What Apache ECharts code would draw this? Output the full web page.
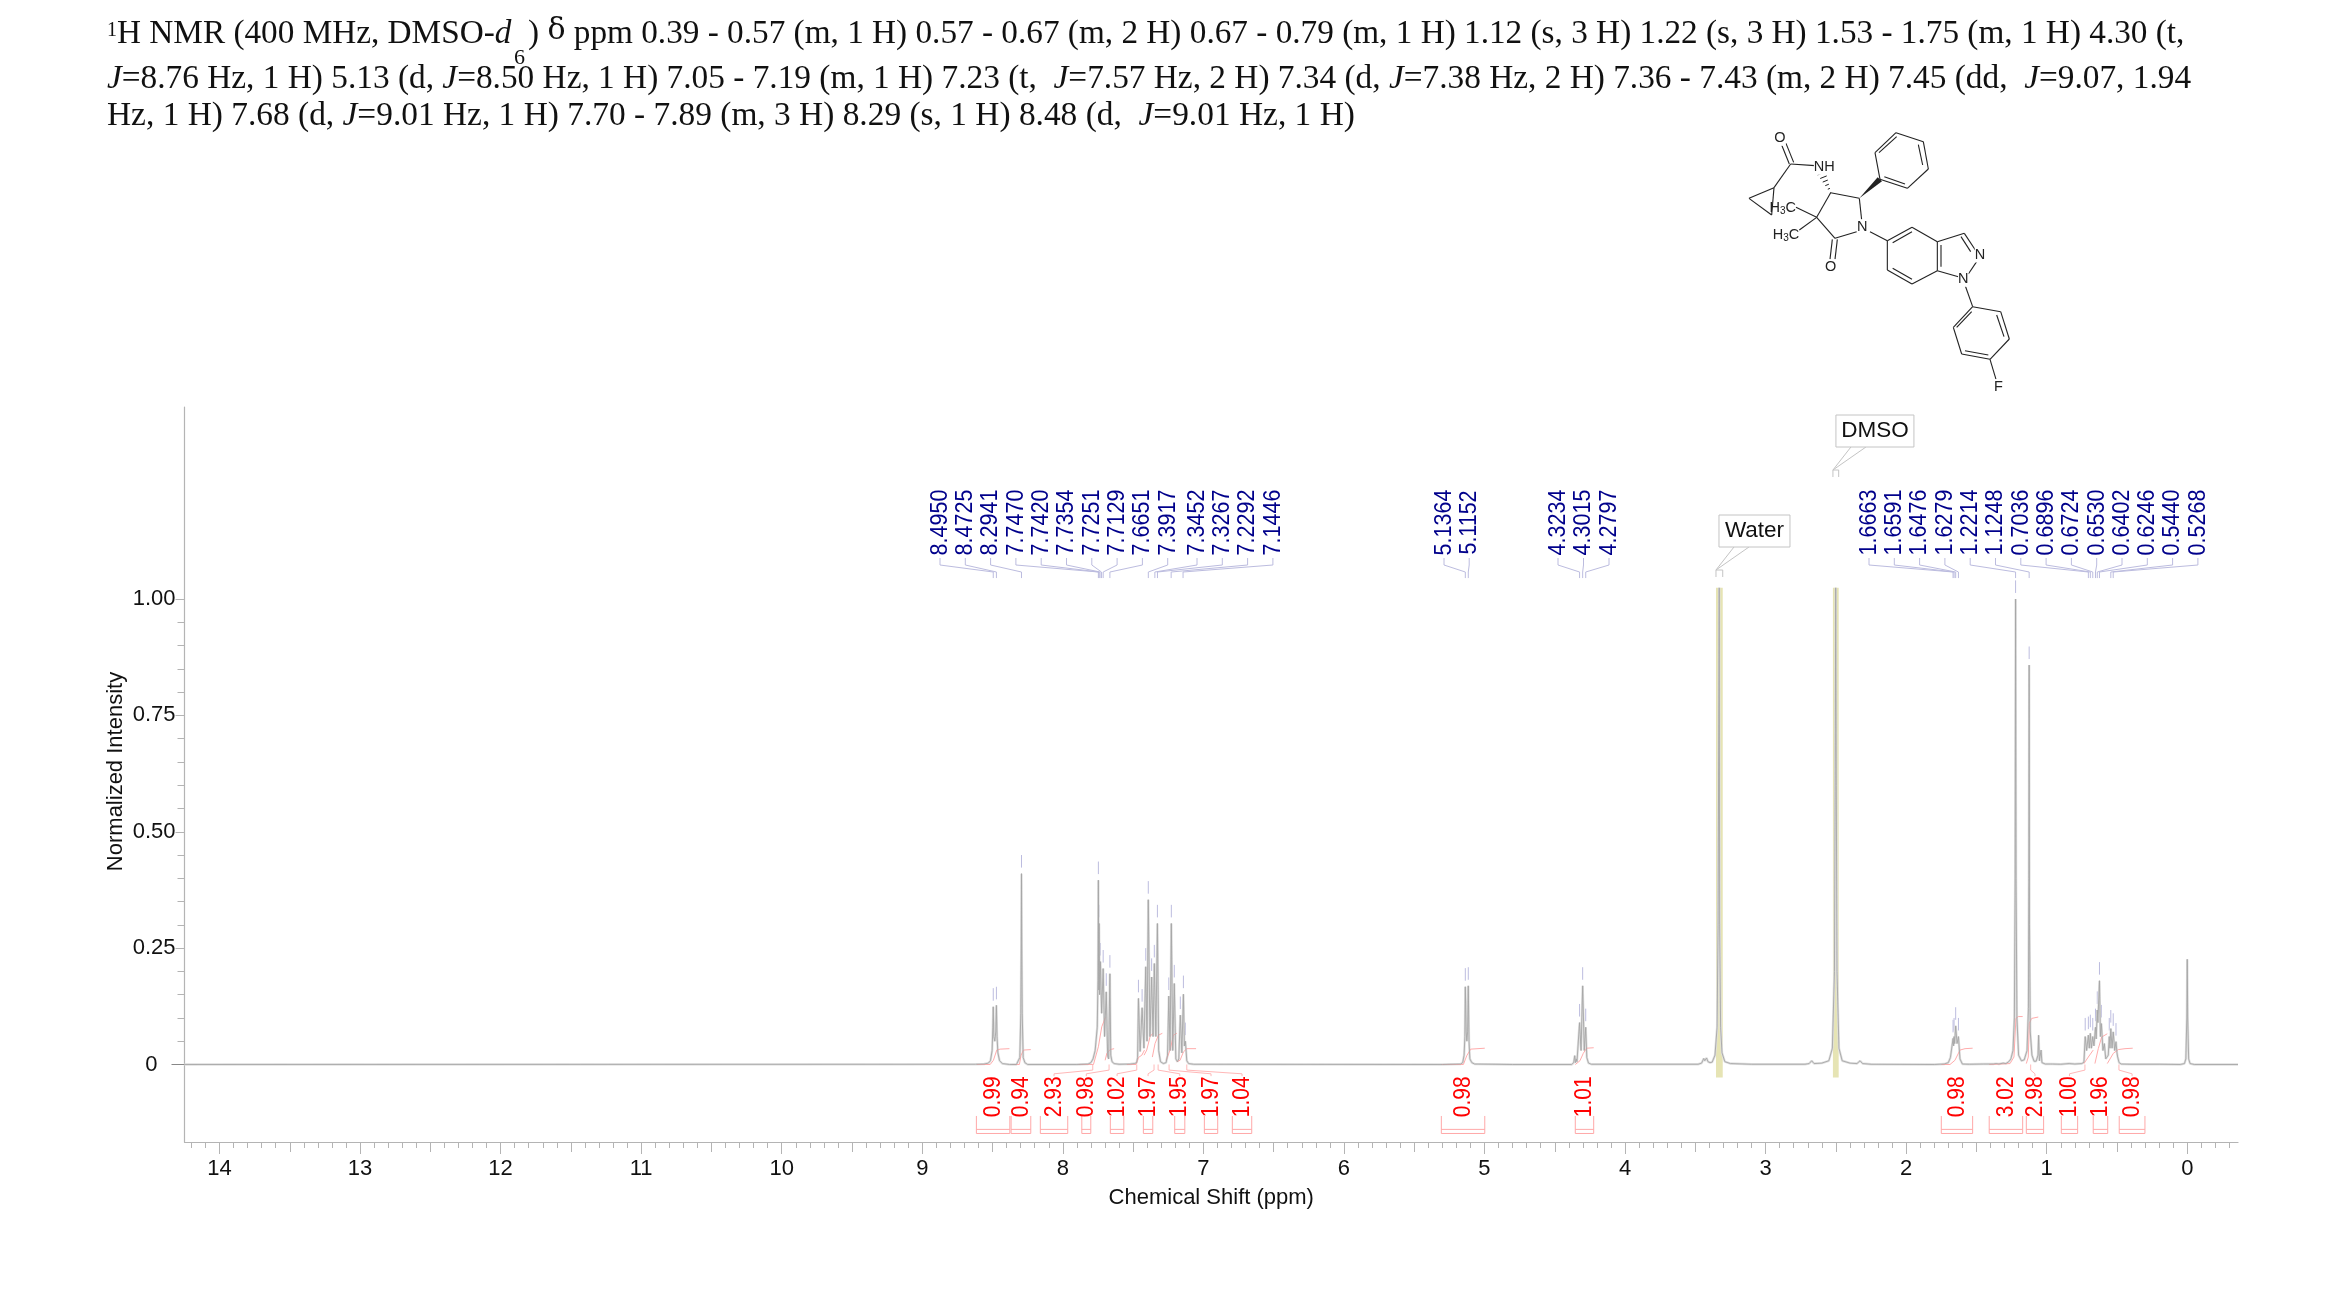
<!DOCTYPE html>
<html>
<head>
<meta charset="utf-8">
<title>1H NMR</title>
<style>
  html, body { margin: 0; padding: 0; background: #fff; }
  #chart { width: 2339px; height: 1307px; }
</style>
</head>
<body>
<div id="chart"></div>
<script src="https://cdn.jsdelivr.net/npm/echarts@6/dist/echarts.min.js"></script>
<script>
// spectrum, [ppm, normalized intensity]
const spectrum = [
  [14.249, 0], [8.62, 0.0005], [8.56, 0.001], [8.53, 0.003], [8.515, 0.008], [8.503, 0.03], [8.498, 0.08],
  [8.495, 0.124], [8.491, 0.06], [8.484, 0.05], [8.477, 0.07], [8.4725, 0.127], [8.468, 0.06], [8.462, 0.025],
  [8.45, 0.008], [8.43, 0.002], [8.38, 0],
  [8.33, 0], [8.318, 0.004], [8.306, 0.015], [8.299, 0.11], [8.296, 0.25], [8.2941, 0.41], [8.292, 0.25],
  [8.289, 0.11], [8.282, 0.015], [8.27, 0.004], [8.25, 0],
  [7.9, 0], [7.82, 0.001], [7.8, 0.004], [7.785, 0.012], [7.77, 0.03], [7.755, 0.08], [7.75, 0.18],
  [7.747, 0.396], [7.7445, 0.16], [7.742, 0.303], [7.738, 0.15], [7.7325, 0.221], [7.724, 0.11], [7.7129, 0.206],
  [7.703, 0.06], [7.691, 0.156], [7.681, 0.018], [7.674, 0.012], [7.6651, 0.195], [7.659, 0.02], [7.65, 0.006],
  [7.635, 0.002], [7.6, 0.0005], [7.52, 0.001], [7.49, 0.002], [7.475, 0.004], [7.468, 0.015],
  [7.462, 0.142], [7.45, 0.028], [7.436, 0.122], [7.423, 0.035], [7.41, 0.21], [7.401, 0.05], [7.392, 0.354],
  [7.38, 0.06], [7.368, 0.188], [7.358, 0.06], [7.349, 0.217], [7.338, 0.06], [7.327, 0.303], [7.318, 0.03],
  [7.305, 0.006], [7.285, 0.002], [7.265, 0.004], [7.255, 0.02], [7.246, 0.147], [7.237, 0.03], [7.228, 0.303],
  [7.218, 0.03], [7.207, 0.174], [7.196, 0.012], [7.185, 0.006], [7.175, 0.012], [7.164, 0.106], [7.153, 0.025],
  [7.142, 0.151], [7.135, 0.04], [7.128, 0.05], [7.118, 0.008], [7.105, 0.002], [7.07, 0.0005],
  [5.3, 0], [5.17, 0.001], [5.155, 0.004], [5.145, 0.02], [5.1395, 0.06], [5.1364, 0.167], [5.13, 0.07],
  [5.1255, 0.05], [5.12, 0.07], [5.1152, 0.169], [5.11, 0.05], [5.104, 0.012], [5.09, 0.004], [5.07, 0.001], [4.8, 0],
  [4.38, 0], [4.365, 0.004], [4.358, 0.019], [4.353, 0.004], [4.347, 0.012], [4.342, 0.006], [4.335, 0.01],
  [4.3234, 0.09], [4.313, 0.03], [4.3015, 0.169], [4.29, 0.03], [4.2797, 0.08], [4.272, 0.015], [4.26, 0.003], [4.24, 0.0005],
  [3.48, 0.0005], [3.455, 0.003], [3.44, 0.013], [3.433, 0.008], [3.42, 0.014], [3.41, 0.006], [3.395, 0.004],
  [3.38, 0.005], [3.36, 0.02], [3.345, 0.08], [3.338, 0.3], [3.33, 1.024], [3.327, 0.3], [3.32, 0.08], [3.31, 0.025],
  [3.29, 0.006], [3.25, 0.002], [3.1, 0.0005],
  [2.72, 0.0005], [2.69, 0.002], [2.672, 0.008], [2.655, 0.002], [2.6, 0.003], [2.55, 0.008], [2.525, 0.035],
  [2.51, 0.2], [2.505, 0.6], [2.501, 1.024], [2.497, 0.6], [2.492, 0.2], [2.478, 0.035], [2.455, 0.008], [2.4, 0.003],
  [2.35, 0.002], [2.328, 0.008], [2.31, 0.002], [2.25, 0.0005], [1.8, 0],
  [1.73, 0.001], [1.7, 0.004], [1.685, 0.015], [1.6663, 0.056], [1.6625, 0.04], [1.6591, 0.06], [1.655, 0.045],
  [1.6476, 0.083], [1.638, 0.045], [1.6279, 0.06], [1.617, 0.012], [1.6, 0.001], [1.55, 0.0005],
  [1.45, 0.001], [1.38, 0.001], [1.36, 0.002], [1.34, 0.001], [1.31, 0.003], [1.29, 0.002], [1.27, 0.006],
  [1.255, 0.012], [1.24, 0.03], [1.23, 0.1], [1.2245, 0.4], [1.2214, 1.0], [1.218, 0.4], [1.212, 0.1], [1.2, 0.02],
  [1.18, 0.008], [1.16, 0.01], [1.14, 0.03], [1.13, 0.12], [1.127, 0.4], [1.1248, 0.858], [1.1225, 0.3], [1.117, 0.07],
  [1.105, 0.02], [1.09, 0.007], [1.075, 0.007], [1.062, 0.02], [1.0575, 0.063], [1.052, 0.008], [1.045, 0.007],
  [1.04, 0.031], [1.034, 0.004], [1.01, 0.001], [0.975, 0.001], [0.97, 0.004], [0.96, 0.001], [0.9, 0.0005],
  [0.84, 0.002], [0.8, 0.001], [0.75, 0.002], [0.735, 0.005], [0.726, 0.06], [0.716, 0.03], [0.7036, 0.063],
  [0.697, 0.035], [0.6896, 0.067], [0.682, 0.035], [0.6724, 0.06], [0.664, 0.04], [0.653, 0.08], [0.648, 0.055],
  [0.6402, 0.117], [0.636, 0.09], [0.6246, 0.18], [0.618, 0.06], [0.611, 0.088], [0.6, 0.03], [0.59, 0.045],
  [0.58, 0.012], [0.569, 0.016], [0.562, 0.02], [0.555, 0.06], [0.55, 0.035], [0.544, 0.077], [0.535, 0.035],
  [0.5268, 0.07], [0.516, 0.03], [0.507, 0.049], [0.5, 0.025], [0.495, 0.016], [0.485, 0.004], [0.47, 0.001],
  [0.4, 0.0005], [0.2, 0.0005],
  [0.05, 0], [0.02, 0.002], [0.01, 0.012], [0.003, 0.1], [0, 0.226], [-0.003, 0.1], [-0.01, 0.012], [-0.02, 0.002],
  [-0.05, 0], [-0.361, 0]
];

const peakLabels = [
  '8.4950', '8.4725', '8.2941', '7.7470', '7.7420', '7.7354', '7.7251', '7.7129', '7.6651', '7.3917',
  '7.3452', '7.3267', '7.2292', '7.1446',
  '5.1364', '5.1152',
  '4.3234', '4.3015', '4.2797',
  '1.6663', '1.6591', '1.6476', '1.6279', '1.2214', '1.1248', '0.7036', '0.6896', '0.6724', '0.6530',
  '0.6402', '0.6246', '0.5440', '0.5268'
];

// short dashes above each picked peak, [ppm, tip height]
const peakTips = [
  [8.495, 0.124], [8.4725, 0.127], [8.2941, 0.41], [7.747, 0.396], [7.742, 0.303], [7.7325, 0.221], [7.7129, 0.206],
  [7.691, 0.156], [7.6651, 0.195], [7.462, 0.142], [7.436, 0.122], [7.41, 0.21], [7.392, 0.354], [7.368, 0.188],
  [7.349, 0.217], [7.327, 0.303], [7.246, 0.147], [7.228, 0.303], [7.207, 0.174], [7.164, 0.106], [7.142, 0.151],
  [7.128, 0.05], [5.1364, 0.167], [5.1152, 0.169], [4.3234, 0.09], [4.3015, 0.169], [4.2797, 0.08],
  [1.6663, 0.056], [1.6591, 0.06], [1.6476, 0.083], [1.6279, 0.06], [1.2214, 1.0], [1.1248, 0.858],
  [0.726, 0.06], [0.7036, 0.063], [0.6896, 0.067], [0.6724, 0.06], [0.653, 0.08], [0.6402, 0.117], [0.6246, 0.18],
  [0.611, 0.088], [0.555, 0.06], [0.544, 0.077], [0.5268, 0.07], [0.507, 0.049]
];

const integralValues = ['0.99', '0.94', '2.93', '0.98', '1.02', '1.97', '1.95', '1.97', '1.04', '0.98', '1.01', '0.98', '3.02', '2.98', '1.00', '1.96', '0.98'];
const integralFrom = [8.615, 8.368, 8.16, 7.865, 7.662, 7.427, 7.204, 6.993, 6.794, 5.307, 4.354, 1.75, 1.409, 1.145, 0.896, 0.669, 0.484];
const integralTo = [8.377, 8.228, 7.965, 7.801, 7.566, 7.36, 7.132, 6.898, 6.656, 4.998, 4.223, 1.527, 1.171, 1.022, 0.78, 0.566, 0.301];
const integralStart = [null, null, 7.787, 7.671, 7.474, 7.351, 7.322, 7.244, 7.118, null, null, null, null, 1.114, 0.728, null, 0.486];

const integralCurves = [
  [[8.612, 0], [8.517, 0], [8.494, 0.009], [8.47, 0.031], [8.446, 0.033], [8.38, 0.034]],
  [[8.363, 0], [8.309, 0], [8.297, 0.02], [8.28, 0.031], [8.228, 0.032]],
  [[7.889, 0], [7.782, 0], [7.747, 0.038], [7.723, 0.081], [7.697, 0.101]],
  [[7.699, 0.009], [7.687, 0.024], [7.663, 0.032], [7.635, 0.034]],
  [[7.545, 0], [7.479, 0], [7.462, 0.015], [7.438, 0.02], [7.419, 0.031]],
  [[7.422, 0.02], [7.403, 0.031], [7.379, 0.06], [7.36, 0.067]],
  [[7.363, 0.016], [7.344, 0.045], [7.32, 0.063], [7.292, 0.067]],
  [[7.265, 0.009], [7.237, 0.031], [7.213, 0.063], [7.189, 0.067]],
  [[7.189, 0.006], [7.166, 0.009], [7.142, 0.027], [7.118, 0.034], [7.052, 0.034]],
  [[5.307, 0], [5.15, 0], [5.126, 0.019], [5.098, 0.033], [4.998, 0.035]],
  [[4.354, 0], [4.321, 0.008], [4.297, 0.024], [4.273, 0.035], [4.223, 0.036]],
  [[1.75, 0], [1.688, 0], [1.653, 0.009], [1.617, 0.031], [1.581, 0.034], [1.527, 0.035]],
  [[1.409, 0], [1.261, 0.002], [1.233, 0.016], [1.219, 0.099], [1.202, 0.103], [1.171, 0.103]],
  [[1.145, 0.002], [1.131, 0.016], [1.124, 0.088], [1.107, 0.099], [1.06, 0.102]],
  [[0.735, 0.002], [0.704, 0.016], [0.669, 0.031]],
  [[0.657, 0.002], [0.633, 0.034], [0.609, 0.059], [0.569, 0.066]],
  [[0.569, 0.002], [0.526, 0.024], [0.491, 0.032], [0.443, 0.034], [0.388, 0.035]]
];

const solventNames = ['Water', 'DMSO'];
const solventFrom = [3.353, 2.521];
const solventTo = [3.305, 2.48];
const solventTop = [1.024, 1.024];
const solventBottom = [-0.028, -0.028];

const xTickLabels = [14, 13, 12, 11, 10, 9, 8, 7, 6, 5, 4, 3, 2, 1, 0];
const xHalfTicks = [13.5, 12.5, 11.5, 10.5, 9.5, 8.5, 7.5, 6.5, 5.5, 4.5, 3.5, 2.5, 1.5, 0.5];
const yTickLabels = [1, 0.75, 0.5, 0.25];

const titleLines = [
  '{sup|1}H NMR (400 MHz, DMSO-{it|d}  ) {del|δ} ppm 0.39 - 0.57 (m, 1 H) 0.57 - 0.67 (m, 2 H) 0.67 - 0.79 (m, 1 H) 1.12 (s, 3 H) 1.22 (s, 3 H) 1.53 - 1.75 (m, 1 H) 4.30 (t,',
  '{it|J}=8.76 Hz, 1 H) 5.13 (d, {it|J}=8.50 Hz, 1 H) 7.05 - 7.19 (m, 1 H) 7.23 (t,  {it|J}=7.57 Hz, 2 H) 7.34 (d, {it|J}=7.38 Hz, 2 H) 7.36 - 7.43 (m, 2 H) 7.45 (dd,  {it|J}=9.07, 1.94',
  'Hz, 1 H) 7.68 (d, {it|J}=9.01 Hz, 1 H) 7.70 - 7.89 (m, 3 H) 8.29 (s, 1 H) 8.48 (d,  {it|J}=9.01 Hz, 1 H)'
];

// structure drawing, coordinates in its own box
const moleculeBonds = [
  [245, 75, 268, 132], [258, 70, 281, 127], [272, 132, 345, 137], [272, 132, 222, 203], [222, 203, 147, 235], [147, 235, 215, 285], [215, 285, 222, 203],
  [392, 218, 478, 235], [478, 235, 485, 300], [470, 335, 405, 355], [405, 355, 350, 292], [350, 292, 392, 218],
  [350, 292, 288, 262], [350, 292, 298, 330], [397, 358, 390, 418], [412, 358, 405, 418],
  [540, 178, 525, 98], [525, 98, 588, 38], [588, 38, 670, 65], [670, 65, 685, 147], [685, 147, 622, 205], [622, 205, 540, 178],
  [537, 98, 590, 50], [655, 74, 668, 135], [553, 170, 615, 192],
  [510, 335, 562, 362], [562, 362, 636, 322], [636, 322, 712, 365], [712, 365, 712, 452], [712, 452, 636, 492], [636, 492, 562, 450], [562, 450, 562, 362],
  [578, 368, 636, 335], [723, 375, 723, 440], [578, 445, 636, 478],
  [712, 365, 793, 340], [793, 340, 826, 390], [783, 350, 812, 395], [830, 425, 805, 462], [775, 470, 712, 452],
  [795, 495, 818, 560], [818, 560, 902, 575], [902, 575, 928, 657], [928, 657, 870, 718], [870, 718, 785, 702], [785, 702, 760, 622], [760, 622, 818, 560],
  [815, 575, 770, 622], [890, 585, 912, 650], [865, 705, 795, 692], [870, 718, 888, 778]
];
const moleculeHash = [[[392, 218], [365, 160]]];
const moleculeWedge = [[478, 235], [533, 172], [546, 184]];
const moleculeLabels = [
  ['O', 240, 55], ['NH', 373, 142], ['N', 487, 320], ['O', 392, 440], ['N', 840, 405], ['N', 790, 478], ['F', 895, 800]
];
const moleculeMethyls = [[248, 265], [258, 345]];

const gridLeft = 184.5, gridRight = 2238, gridTop = 407, gridBottom = 1142;
const labelFont = '"Liberation Sans", Arial, sans-serif';
const serifFont = '"Liberation Serif", "Times New Roman", serif';
const axisGray = '#b4b4b4';

// label columns along the top of the plot, [first x, step, count]
const labelColumns = [[940, 25.3, 10], [1197, 25.3, 4], [1444, 25.2, 2], [1558, 25.5, 3], [1869, 25.3, 14]];
const labelX = [];
labelColumns.forEach(([start, step, count]) => {
  for (let i = 0; i < count; i++) labelX.push(start + i * step);
});

const xMinorTicks = [];
for (let i = 142; i >= -3; i--) {
  if (i % 5 !== 0) xMinorTicks.push(i / 10);
}
const yMinorTicks = [];
for (let i = 1; i < 20; i++) {
  if (i % 5 !== 0) yMinorTicks.push(i / 20);
}

function xAxis(extra) {
  return Object.assign({
    type: 'value', inverse: true, min: -0.361, max: 14.249, position: 'bottom',
    axisLine: { show: false, onZero: false }, splitLine: { show: false }, axisLabel: { show: false },
    axisTick: { show: false }
  }, extra);
}
function yAxis(extra) {
  return Object.assign({
    type: 'value', min: -0.1665, max: 1.4125, position: 'left',
    axisLine: { show: false, onZero: false }, splitLine: { show: false }, axisLabel: { show: false },
    axisTick: { show: false }
  }, extra);
}
const tickLine = { color: axisGray, width: 1 };

const chart = echarts.init(document.getElementById('chart'), null, { renderer: 'canvas' });

const graphic = [];
const titleY = [36, 83, 120];
const titleSize = [33.25, 33.35, 33.4];
titleLines.forEach((line, i) => {
  graphic.push({
    type: 'text', left: 107, top: titleY[i] - 20, silent: true,
    style: {
      text: line, font: titleSize[i] + 'px ' + serifFont, fill: '#111',
      rich: {
        sup: { font: '20px ' + serifFont, fill: '#111', padding: [0, 0, 6, 0] },
        it: { font: 'italic ' + titleSize[i] + 'px ' + serifFont, fill: '#111' },
        del: { font: '30px "DejaVu Serif", ' + serifFont, fill: '#111', padding: [0, 0, 6, 0] }
      }
    }
  });
});
graphic.push({ type: 'text', left: 514, top: 47, silent: true, style: { text: '6', font: '22px ' + serifFont, fill: '#111' } });

// structure goes in at a third of its own scale
const molX = (v) => 1700 + v / 3;
const molY = (v) => 120 + v / 3;
moleculeBonds.forEach((b) => {
  graphic.push({
    type: 'line', silent: true,
    shape: { x1: molX(b[0]), y1: molY(b[1]), x2: molX(b[2]), y2: molY(b[3]) },
    style: { stroke: '#222', lineWidth: 1.1 }
  });
});
graphic.push({
  type: 'polygon', silent: true,
  shape: { points: moleculeWedge.map((p) => [molX(p[0]), molY(p[1])]) },
  style: { fill: '#222' }
});
moleculeHash.forEach(([a, b]) => {
  for (let t = 0; t <= 1.001; t += 0.2) {
    const cx = a[0] + (b[0] - a[0]) * t;
    const cy = a[1] + (b[1] - a[1]) * t;
    const half = 1 + 11 * t;
    graphic.push({
      type: 'line', silent: true,
      shape: { x1: molX(cx - half), y1: molY(cy + half * 0.4), x2: molX(cx + half), y2: molY(cy - half * 0.4) },
      style: { stroke: '#222', lineWidth: 1 }
    });
  }
});
moleculeLabels.forEach((l) => {
  graphic.push({
    type: 'text', silent: true, x: molX(l[1]), y: molY(l[2]),
    style: { text: l[0], font: '14.5px ' + labelFont, fill: '#222', align: 'center', verticalAlign: 'middle', backgroundColor: '#fff' }
  });
});
moleculeMethyls.forEach((l) => {
  graphic.push({
    type: 'text', silent: true, x: molX(l[0]), y: molY(l[1]),
    style: {
      text: 'H{s|3}C', font: '14.5px ' + labelFont, fill: '#222', align: 'center', verticalAlign: 'middle',
      rich: { s: { font: '10px ' + labelFont, fill: '#222', padding: [6, 0, 0, 0] } }
    }
  });
});

const series = [
  {
    type: 'custom', name: 'solvent', silent: true, z: 1, clip: false,
    data: solventNames.map((n, i) => [solventFrom[i], solventTo[i], solventTop[i], solventBottom[i]]),
    renderItem(params, api) {
      const a = api.coord([api.value(0), api.value(2)]);
      const b = api.coord([api.value(1), api.value(3)]);
      return { type: 'rect', shape: { x: a[0], y: a[1], width: b[0] - a[0], height: b[1] - a[1] }, style: { fill: '#e6e4b4' } };
    }
  },
  {
    type: 'line', name: 'spectrum halo', data: spectrum, symbol: 'none', silent: true, z: 2,
    lineStyle: { color: '#e0e0e0', width: 2.4 }
  },
  {
    type: 'line', name: 'spectrum', data: spectrum, symbol: 'none', silent: true, z: 3,
    lineStyle: { color: '#a6a6a6', width: 0.9 }
  },
  {
    type: 'custom', name: 'picked tips', silent: true, z: 2, clip: false,
    data: peakTips,
    renderItem(params, api) {
      const a = api.coord([api.value(0), api.value(1) + 0.013]);
      const b = api.coord([api.value(0), api.value(1) + 0.04]);
      return { type: 'line', shape: { x1: a[0], y1: a[1], x2: b[0], y2: b[1] }, style: { stroke: '#bcbcdf', lineWidth: 1 } };
    }
  },
  {
    type: 'custom', name: 'peak labels', silent: true, z: 4, clip: false,
    data: peakLabels.map((t) => [parseFloat(t)]),
    renderItem(params, api) {
      const x = labelX[params.dataIndex];
      const peak = api.coord([api.value(0), 1.058]);
      const end = api.coord([api.value(0), 1.045]);
      return {
        type: 'group',
        children: [
          {
            type: 'polyline',
            shape: { points: [[x, 558], [x, 565], [peak[0], peak[1]], [end[0], end[1]]] },
            style: { stroke: '#bcbcdf', lineWidth: 1, fill: null }
          },
          {
            type: 'text', x: x, y: 522.5, rotation: Math.PI / 2, scaleY: 1.15,
            style: { text: peakLabels[params.dataIndex], font: '21.5px ' + labelFont, fill: '#00008b', align: 'center', verticalAlign: 'middle' }
          }
        ]
      };
    }
  },
  {
    type: 'custom', name: 'integrals', silent: true, z: 4, clip: false,
    data: integralValues.map((v, i) => [integralFrom[i], integralTo[i]]),
    renderItem(params, api) {
      const i = params.dataIndex;
      const left = api.coord([api.value(0), -0.1106]);
      const right = api.coord([api.value(1), -0.1482]);
      const mid = (left[0] + right[0]) / 2;
      const lineY = api.coord([0, -0.1394])[1];
      const children = [
        {
          type: 'polyline',
          shape: { points: [[left[0], left[1]], [left[0], right[1]], [right[0], right[1]], [right[0], left[1]]] },
          style: { stroke: '#ffa8a8', lineWidth: 1, fill: null }
        },
        {
          type: 'line',
          shape: { x1: left[0], y1: lineY, x2: right[0], y2: lineY },
          style: { stroke: '#ffa8a8', lineWidth: 1 }
        },
        {
          type: 'text', x: mid, y: api.coord([0, -0.0692])[1], rotation: Math.PI / 2, scaleY: 1.15,
          style: { text: integralValues[i], font: '21px ' + labelFont, fill: '#ff0000', align: 'center', verticalAlign: 'middle' }
        }
      ];
      if (integralStart[i] !== null) {
        const s = api.coord([integralStart[i], 0]);
        const s2 = api.coord([integralStart[i], -0.012]);
        children.push({
          type: 'polyline',
          shape: { points: [s, s2, [mid, api.coord([0, -0.02])[1]], [mid, api.coord([0, -0.025])[1]]] },
          style: { stroke: '#ffb8b8', lineWidth: 1, fill: null }
        });
      }
      return { type: 'group', children };
    }
  },
  {
    type: 'custom', name: 'solvent tags', silent: true, z: 5, clip: false,
    data: solventNames.map((n, i) => [solventFrom[i], solventTo[i]]),
    renderItem(params, api) {
      const i = params.dataIndex;
      const a = api.coord([api.value(0), solventTop[i]]);
      const b = api.coord([api.value(1), solventTop[i]]);
      // box offsets from the left edge of the band
      const w = i === 0 ? 71 : 78;
      const boxX = a[0] + 3;
      const boxY = i === 0 ? 515 : 415;
      const tipY = boxY + 55;
      const stroke = '#c4c4c4';
      return {
        type: 'group',
        children: [
          {
            type: 'polyline',
            shape: { points: [[a[0], tipY + 7], [a[0], tipY], [b[0], tipY], [b[0], tipY + 7]] },
            style: { stroke: stroke, lineWidth: 1, fill: null }
          },
          {
            type: 'polyline',
            shape: { points: [[boxX + 15, boxY + 32], [a[0], tipY], [boxX + 30, boxY + 32]] },
            style: { stroke: stroke, lineWidth: 1, fill: null }
          },
          {
            type: 'rect',
            shape: { x: boxX, y: boxY, width: w, height: 32 },
            style: { stroke: stroke, lineWidth: 1, fill: '#fff' }
          },
          {
            type: 'text', x: boxX + w / 2, y: boxY + 16,
            style: { text: solventNames[i], font: '22.5px ' + labelFont, fill: '#111', align: 'center', verticalAlign: 'middle' }
          }
        ]
      };
    }
  }
];
integralCurves.forEach((curve) => {
  series.push({
    type: 'line', name: 'integral curve', data: curve, symbol: 'none', silent: true, z: 2, clip: false,
    lineStyle: { color: '#ffacac', width: 1 }
  });
});

chart.setOption({
  animation: false,
  backgroundColor: '#fff',
  textStyle: { fontFamily: labelFont },
  grid: { left: gridLeft, top: gridTop, width: gridRight - gridLeft, height: gridBottom - gridTop, containLabel: false },
  xAxis: [
    xAxis({
      axisLine: { show: true, onZero: false, lineStyle: { color: axisGray, width: 1.2 } },
      axisTick: { show: true, customValues: xTickLabels, length: 12, lineStyle: tickLine },
      axisLabel: { show: true, customValues: xTickLabels, margin: 16, fontSize: 22, color: '#111', fontFamily: labelFont },
      name: 'Chemical Shift (ppm)', nameLocation: 'middle', nameGap: 45,
      nameTextStyle: { fontSize: 22, color: '#111', fontFamily: labelFont }
    }),
    xAxis({ axisTick: { show: true, customValues: xHalfTicks, length: 10, lineStyle: tickLine } }),
    xAxis({ axisTick: { show: true, customValues: xMinorTicks, length: 6, lineStyle: tickLine } })
  ],
  yAxis: [
    yAxis({
      axisLine: { show: true, onZero: false, lineStyle: { color: axisGray, width: 1.2 } },
      axisTick: { show: true, customValues: yTickLabels, length: 9, lineStyle: tickLine },
      axisLabel: { show: true, customValues: yTickLabels, margin: 9, fontSize: 22, color: '#111', fontFamily: labelFont, formatter: (v) => v.toFixed(2) },
      name: 'Normalized Intensity', nameLocation: 'middle', nameGap: 58, nameMoveOverlap: false,
      nameTextStyle: { fontSize: 22, color: '#111', fontFamily: labelFont, padding: [0, 0, 0, 6] }
    }),
    yAxis({
      axisTick: { show: true, customValues: [0], length: 13, lineStyle: { color: '#888', width: 1 } },
      axisLabel: { show: true, customValues: [0], margin: 27, fontSize: 22, color: '#111', fontFamily: labelFont }
    }),
    yAxis({ axisTick: { show: true, customValues: yMinorTicks, length: 7, lineStyle: tickLine } })
  ],
  graphic: graphic,
  series: series
});
</script>
</body>
</html>
